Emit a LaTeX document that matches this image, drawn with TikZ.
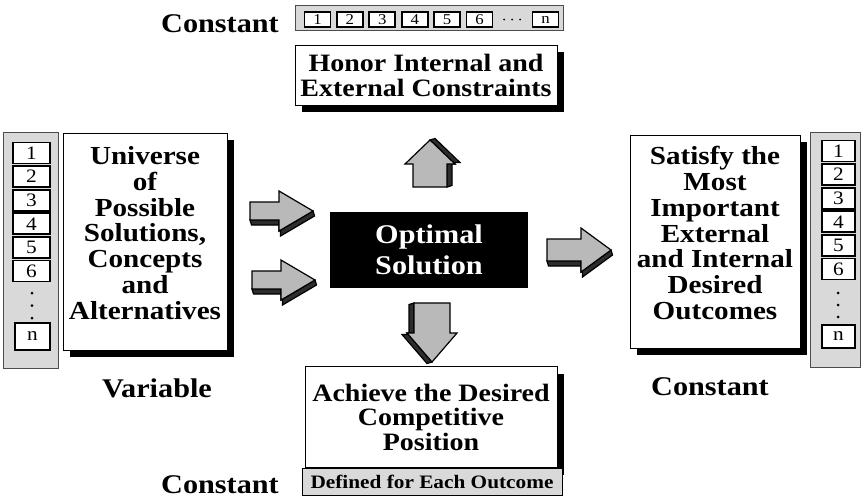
\documentclass[tikz,border=0pt]{standalone}
\usepackage{fontspec}
\setmainfont[FakeStretch=1.12]{Liberation Serif}
\usetikzlibrary{shadows}

% block arrow with a bevelled lower side
% #1 x, #2 y (tail centre), #3 angle, #4 length, #5 head length, #6 shaft half width, #7 head half width
\newcommand\bevelarrow[7]{%
  \begin{scope}[shift={(#1,#2)}, rotate=#3]
    \filldraw[arrowside] (0,#6) -- ({#4-#5},#6) -- ({#4-#5},#7) -- (#4,0)
      -- ({#4+1.5},5) -- ({#4-#5+1.5},{#7+5}) -- ({#4-#5+1.5},{#6+5}) -- (1.5,{#6+5}) -- cycle;
    \filldraw[arrowface] (0,-#6) -- ({#4-#5},-#6) -- ({#4-#5},-#7) -- (#4,0)
      -- ({#4-#5},#7) -- ({#4-#5},#6) -- (0,#6) -- cycle;
  \end{scope}}

\begin{document}
\begin{tikzpicture}[x=1pt,y=-1pt,
  textbox/.style={draw=black, line width=1pt, fill=white, inner sep=0pt,
    drop shadow={shadow xshift=7pt, shadow yshift=-7pt, fill=black, opacity=1}},
  boxtext/.style={inner sep=0pt, align=center, font=\bfseries\fontsize{26}{25.8}\selectfont},
  corebox/.style={fill=black, text=white, inner sep=0pt, align=center,
    font=\bfseries\fontsize{27}{31}\selectfont},
  sidelabel/.style={font=\bfseries\fontsize{27}{28}\selectfont, inner sep=0pt},
  strip/.style={draw=black!70, line width=0.8pt, fill=gray!30, inner sep=0pt},
  cell/.style={draw=black, line width=1.8pt, fill=white, inner sep=0pt},
  dot/.style={circle, fill=black, inner sep=0pt, minimum size=3pt},
  arrowface/.style={draw=black, line width=1.2pt, fill=gray!55, line join=miter},
  arrowside/.style={draw=black, line width=1.2pt, fill=gray!35!black, line join=miter}]
\useasboundingbox (0,0) rectangle (864,499);

% ---- top: constraints --------------------------------------------------
\node[sidelabel] (ltop) at (220,24) {Constant};
\node[strip, minimum width=268, minimum height=25] (stop) at (429,17.5) {};
\foreach \i/\t in {0/1,1/2,2/3,3/4,4/5,5/6} {
  \node[cell, minimum width=26, minimum height=15, font=\fontsize{15}{15}\selectfont]
    (ct\t) at ({317.5+32.4*\i},19.5) {\t};
}
\foreach \i in {0,1,2} \node[dot, minimum size=2pt] (dt\i) at ({504+8*\i},19.5) {};
\node[cell, minimum width=26, minimum height=15, font=\fontsize{15}{15}\selectfont]
  (ctn) at (545.5,19.5) {n};
\node[textbox, minimum width=262, minimum height=60] (honor) at (426,75) {};
\node[boxtext, font=\bfseries\fontsize{25}{25}\selectfont] (honort) at (426,75)
  {Honor Internal and\\External Constraints};

% ---- left: the variable set ------------------------------------------
\node[strip, minimum width=55, minimum height=236] (sleft) at (30.5,250) {};
\foreach \i/\t in {0/1,1/2,2/3,3/4,4/5,5/6} {
  \node[cell, minimum width=37, minimum height=21, font=\fontsize{19}{19}\selectfont]
    (cl\t) at (31.5,{153+23.6*\i}) {\t};
}
\foreach \i in {0,1,2} \node[dot] (dl\i) at (32,{293+12.5*\i}) {};
\node[cell, line width=2.4pt, minimum width=35, minimum height=27, font=\fontsize{19}{19}\selectfont]
  (cln) at (32.5,336.5) {n};
\node[textbox, minimum width=164, minimum height=217] (universe) at (145,241.5) {};
\node[boxtext] (universet) at (145,233)
  {Universe\\of\\Possible\\Solutions,\\Concepts\\and\\Alternatives};
\node[sidelabel] (lvar) at (157,388) {Variable};

% ---- centre --------------------------------------------------------------
\node[corebox, minimum width=198, minimum height=76] (optimal) at (429,250)
  {Optimal\\Solution};

% ---- right: desired outcomes -------------------------------------------
\node[textbox, minimum width=170, minimum height=213] (satisfy) at (715,241.5) {};
\node[boxtext] (satisfyt) at (715,233)
  {Satisfy the\\Most\\Important\\External\\and Internal\\Desired\\Outcomes};
\node[sidelabel] (lright) at (710,387) {Constant};
\node[strip, minimum width=50, minimum height=235] (sright) at (835,249.5) {};
\foreach \i/\t in {0/1,1/2,2/3,3/4,4/5,5/6} {
  \node[cell, minimum width=33, minimum height=21, font=\fontsize{19}{19}\selectfont]
    (cr\t) at (838.5,{151+23.6*\i}) {\t};
}
\foreach \i in {0,1,2} \node[dot] (dr\i) at (838,{293+12*\i}) {};
\node[cell, line width=2.4pt, minimum width=33, minimum height=23, font=\fontsize{19}{19}\selectfont]
  (crn) at (838.5,336.5) {n};

% ---- bottom: competitive position ----------------------------------------
\node[textbox, minimum width=252, minimum height=101] (achieve) at (431,417) {};
\node[boxtext, font=\bfseries\fontsize{25}{24.5}\selectfont] (achievet) at (431,417)
  {Achieve the Desired\\Competitive\\Position};
\node[strip, draw=black, minimum width=260, minimum height=27,
  font=\bfseries\fontsize{19}{19}\selectfont] (sbottom) at (432,481.5)
  {Defined for\ Each Outcome};
\node[sidelabel] (lbot) at (220,485) {Constant};

% ---- block arrows ----------------------------------------------------------
\bevelarrow{250}{211}{0}{63}{34}{9}{20}
\bevelarrow{252}{280}{0}{63}{34}{9}{20}
\bevelarrow{547}{250}{0}{64}{30}{11}{22}
\bevelarrow{430}{187}{90}{47}{24}{17}{25}
\bevelarrow{432}{303}{-90}{59}{29}{18}{25}
\end{tikzpicture}
\end{document}
